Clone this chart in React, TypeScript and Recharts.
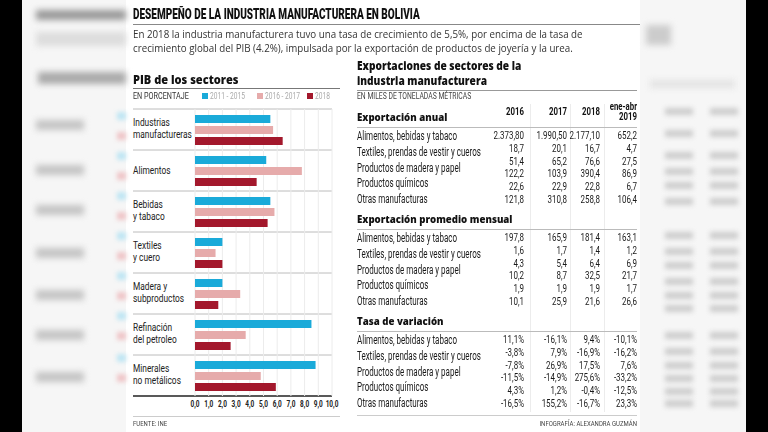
import React from "react";
import { BarChart, Bar, XAxis, YAxis, CartesianGrid } from "recharts";

const sectors = [
  "Industrias\nmanufactureras",
  "Alimentos",
  "Bebidas\ny tabaco",
  "Textiles\ny cuero",
  "Madera y\nsubproductos",
  "Refinación\ndel petroleo",
  "Minerales\nno metálicos",
];
const pib2011 = [5.5, 5.2, 5.5, 2.0, 2.0, 8.5, 8.8];
const pib2016 = [5.7, 7.8, 5.8, 1.5, 3.3, 3.7, 4.8];
const pib2018 = [6.4, 4.5, 5.3, 2.0, 1.7, 2.6, 5.9];
const xTicks = [0, 1, 2, 3, 4, 5, 6, 7, 8, 9, 10];

const yearCols = ["2016", "2017", "2018", "ene-abr\n2019"];
const rowLabels = [
  "Alimentos, bebidas y tabaco",
  "Textiles, prendas de vestir y cueros",
  "Productos de madera y papel",
  "Productos químicos",
  "Otras manufacturas",
];
const anual = [
  ["2.373,80", "18,7", "51,4", "122,2", "22,6", "121,8"],
  ["1.990,50", "20,1", "65,2", "103,9", "22,9", "310,8"],
  ["2.177,10", "16,7", "76,6", "390,4", "22,8", "258,8"],
  ["652,2", "4,7", "27,5", "86,9", "6,7", "106,4"],
];
const mensual = [
  ["197,8", "1,6", "4,3", "10,2", "1,9", "10,1"],
  ["165,9", "1,7", "5,4", "8,7", "1,9", "25,9"],
  ["181,4", "1,4", "6,4", "32,5", "1,9", "21,6"],
  ["163,1", "1,2", "6,9", "21,7", "1,7", "26,6"],
];
const variacion = [
  ["11,1%", "-3,8%", "-7,8%", "-11,5%", "4,3%", "-16,5%"],
  ["-16,1%", "7,9%", "26,9%", "-14,9%", "1,2%", "155,2%"],
  ["9,4%", "-16,9%", "17,5%", "275,6%", "-0,4%", "-16,7%"],
  ["-10,1%", "-16,2%", "7,6%", "-33,2%", "-12,5%", "23,3%"],
];

const data = sectors.map((s, i) => ({
  sector: s,
  a: pib2011[i],
  b: pib2016[i],
  c: pib2018[i],
}));

const COND = 'Roboto, "Liberation Sans", sans-serif';
const SANS = '"Open Sans", "Noto Sans", sans-serif';
const CYAN = "#1aaad9";
const PINK = "#e6abab";
const RED = "#a3182c";
const colRight = [524, 567, 600, 637];

const abs = (x: number, y: number, extra: React.CSSProperties = {}): React.CSSProperties => ({
  position: "absolute",
  left: x,
  top: y,
  whiteSpace: "nowrap",
  ...extra,
});

// squeezed text, the reference uses a condensed face
const T = ({ x, y, s = 1, right = false, style = {}, children }: any) => (
  <div
    style={abs(right ? x - 300 : x, y, {
      width: right ? 300 : undefined,
      textAlign: right ? "right" : "left",
      transform: `scaleX(${s})`,
      transformOrigin: right ? "right top" : "left top",
      ...style,
    })}
  >
    {children}
  </div>
);

const CatTick = ({ y, payload }: any) => {
  const lines = String(payload.value).split("\n");
  const start = lines.length === 1 ? 3.5 : -3.5;
  return (
    <g transform={`translate(7, ${y}) scale(0.76, 1)`}>
      <text x={0} y={0} textAnchor="start" fontSize={11} fill="#222" fontFamily={COND}>
        {lines.map((l, i) => (
          <tspan key={i} x={0} y={start + i * 11.5}>
            {l}
          </tspan>
        ))}
      </text>
    </g>
  );
};

const XTick = ({ x, y, payload }: any) => (
  <g transform={`translate(${x}, ${y}) scale(0.72, 1)`}>
    <text x={0} y={0} dy={7} textAnchor="middle" fontSize={9} fontWeight={700} fill="#222" fontFamily={COND}>
      {Number(payload.value).toFixed(1).replace(".", ",")}
    </text>
  </g>
);

const Section = ({ title, top, values, lineY }: { title: string; top: number; values: string[][]; lineY: number }) => (
  <>
    <T x={357} y={top - 8} s={0.92} style={{ fontFamily: SANS, fontWeight: 800, fontSize: 10.5, color: "#111" }}>
      {title}
    </T>
    <div style={abs(357, lineY, { width: 280, height: 1, background: "#bbb" })} />
    {rowLabels.map((l, i) => (
      <T key={l} x={357} y={top + 11 + i * 15.8} s={0.64} style={{ fontFamily: COND, fontSize: 12.5, color: "#1a1a1a", lineHeight: "13px" }}>
        {l}
      </T>
    ))}
    {values.map((col, c) =>
      col.map((v, r) => (
        <T
          key={c + "-" + r}
          x={colRight[c]}
          y={top + 12 + r * 12.8}
          s={0.76}
          right
          style={{ fontFamily: COND, fontSize: 10.5, color: "#1a1a1a", lineHeight: "12px" }}
        >
          {v}
        </T>
      ))
    )}
  </>
);

const Blob = ({ x, y, w, h, c = "#b5b5b5", b = 3 }: any) => (
  <div style={abs(x, y, { width: w, height: h, background: c, filter: `blur(${b}px)` })} />
);

export default function App() {
  return (
    <div style={{ position: "fixed", left: 0, top: 0, width: 768, height: 432, background: "#fff", overflow: "hidden" }}>
      {/* blurred side panels */}
      <div style={abs(0, 0, { width: 22, height: 432, background: "#000" })} />
      <div style={abs(22, 0, { width: 104, height: 432, background: "#f6f6f6" })} />
      <Blob x={36} y={10} w={90} h={10} c="#999" />
      <Blob x={36} y={32} w={90} h={14} c="#ddd" />
      <Blob x={38} y={72} w={88} h={12} c="#aaa" />
      {[120, 165, 205, 248, 290, 330, 372].map((y) => (
        <Blob key={y} x={36} y={y} w={48} h={10} c="#c4c4c4" />
      ))}
      {[112, 152, 192, 232, 272, 312, 354].map((y) => (
        <React.Fragment key={y}>
          <Blob x={117} y={y} w={9} h={8} c="#bfe6f3" b={2} />
          <Blob x={117} y={y + 20} w={9} h={8} c="#efc6c8" b={2} />
        </React.Fragment>
      ))}
      <div style={abs(746, 0, { width: 22, height: 432, background: "#000" })} />
      <div style={abs(640, 0, { width: 106, height: 432, background: "#f6f6f6" })} />
      <Blob x={646} y={25} w={25} h={20} c="#ccc" />
      <Blob x={650} y={80} w={85} h={8} c="#e3e3e3" />
      {[108, 130, 152, 168, 182, 198, 232, 248, 262, 278, 292, 305, 332, 348, 362, 375, 388, 400].map((y) => (
        <React.Fragment key={y}>
          <Blob x={665} y={y} w={28} h={7} c="#cdcdcd" b={2.5} />
          <Blob x={710} y={y} w={28} h={7} c="#cdcdcd" b={2.5} />
        </React.Fragment>
      ))}

      {/* header */}
      <T x={133} y={7} s={0.69} style={{ fontFamily: COND, fontWeight: 900, fontSize: 14.5, color: "#111", lineHeight: "16px" }}>
        DESEMPEÑO DE LA INDUSTRIA MANUFACTURERA EN BOLIVIA
      </T>
      <div style={abs(133, 24, { width: 507, height: 1, background: "#888" })} />
      <T x={133} y={28} s={0.93} style={{ fontFamily: SANS, fontSize: 10.5, color: "#333", lineHeight: "13.5px" }}>
        En 2018 la industria manufacturera tuvo una tasa de crecimiento de 5,5%, por encima de la tasa de
        <br />
        crecimiento global del PIB (4.2%), impulsada por la exportación de productos de joyería y la urea.
      </T>

      {/* left panel */}
      <T x={133} y={70} s={0.85} style={{ fontFamily: SANS, fontWeight: 800, fontSize: 13, color: "#111" }}>
        PIB de los sectores
      </T>
      <div style={abs(133, 88, { width: 207, height: 1, background: "#777" })} />
      <T x={133} y={92} s={0.85} style={{ fontFamily: COND, fontSize: 8.5, color: "#333", lineHeight: "9px" }}>
        EN PORCENTAJE
      </T>
      {[
        { x: 202, c: CYAN, t: "2011 - 2015" },
        { x: 257, c: PINK, t: "2016 - 2017" },
        { x: 307, c: RED, t: "2018" },
      ].map((l) => (
        <React.Fragment key={l.t}>
          <div style={abs(l.x, 93, { width: 6, height: 6, background: l.c })} />
          <T x={l.x + 8} y={92} s={0.78} style={{ fontFamily: COND, fontSize: 8.5, color: "#aaa", lineHeight: "9px" }}>
            {l.t}
          </T>
        </React.Fragment>
      ))}
      <div style={abs(126, 100)}>
        <BarChart
          layout="vertical"
          width={216}
          height={316}
          data={data}
          margin={{ top: 9, right: 10, left: 0, bottom: 0 }}
          barSize={8}
          barGap={3}
        >
          <CartesianGrid
            stroke="#ececec"
            horizontalCoordinatesGenerator={({ offset }: any) =>
              sectors.map((_, i) => offset.top + (i * offset.height) / sectors.length).concat(offset.top + offset.height)
            }
            horizontal={(p: any) => (
              <line
                key={p.key}
                x1={7}
                x2={p.x2}
                y1={p.y1}
                y2={p.y2}
                stroke={p.index === sectors.length ? "#222" : "#bcbcbc"}
                strokeWidth={p.index === sectors.length ? 1.5 : 1}
              />
            )}
          />
          <XAxis
            type="number"
            domain={[0, 10]}
            ticks={xTicks}
            interval={0}
            axisLine={false}
            tickLine={false}
            tickSize={0}
            tickMargin={4}
            height={20}
            tick={<XTick />}
          />
          <YAxis type="category" dataKey="sector" width={69} axisLine={false} tickLine={false} tick={<CatTick />} interval={0} />
          <Bar dataKey="a" fill={CYAN} isAnimationActive={false} />
          <Bar dataKey="b" fill={PINK} isAnimationActive={false} />
          <Bar dataKey="c" fill={RED} isAnimationActive={false} />
        </BarChart>
      </div>
      <div style={abs(133, 416, { width: 207, height: 1, background: "#ccc" })} />
      <T x={133} y={419} s={0.8} style={{ fontFamily: COND, fontSize: 7.5, color: "#444" }}>
        FUENTE: INE
      </T>

      {/* right panel table */}
      <T x={357} y={59} s={0.86} style={{ fontFamily: SANS, fontWeight: 800, fontSize: 11.8, color: "#111", lineHeight: "13px" }}>
        Exportaciones de sectores de la
      </T>
      <T x={357} y={74} s={0.86} style={{ fontFamily: SANS, fontWeight: 800, fontSize: 11.8, color: "#111", lineHeight: "13px" }}>
        industria manufacturera
      </T>
      <div style={abs(357, 90, { width: 280, height: 1, background: "#999" })} />
      <T x={357} y={92} s={0.8} style={{ fontFamily: COND, fontSize: 8.5, color: "#444", lineHeight: "9px" }}>
        EN MILES DE TONELADAS MÉTRICAS
      </T>
      {[530, 570, 604].map((x) => (
        <div key={x} style={abs(x, 104, { width: 1, height: 308, background: "#ececec" })} />
      ))}
      {yearCols.map((y, i) => (
        <T
          key={y}
          x={colRight[i]}
          y={y.includes("\n") ? 102 : 107}
          s={0.78}
          right
          style={{ fontFamily: COND, fontWeight: 700, fontSize: 10, color: "#111", lineHeight: "10px", whiteSpace: "pre" }}
        >
          {y}
        </T>
      ))}
      <Section title="Exportación anual" top={118} values={anual} lineY={127} />
      <Section title="Exportación promedio mensual" top={220} values={mensual} lineY={229} />
      <Section title="Tasa de variación" top={322} values={variacion} lineY={331} />
      <div style={abs(357, 415, { width: 280, height: 1, background: "#ccc" })} />
      <T x={637} y={419} s={0.8} right style={{ fontFamily: COND, fontSize: 7.5, color: "#444" }}>
        INFOGRAFÍA: ALEXANDRA GUZMÁN
      </T>
    </div>
  );
}
